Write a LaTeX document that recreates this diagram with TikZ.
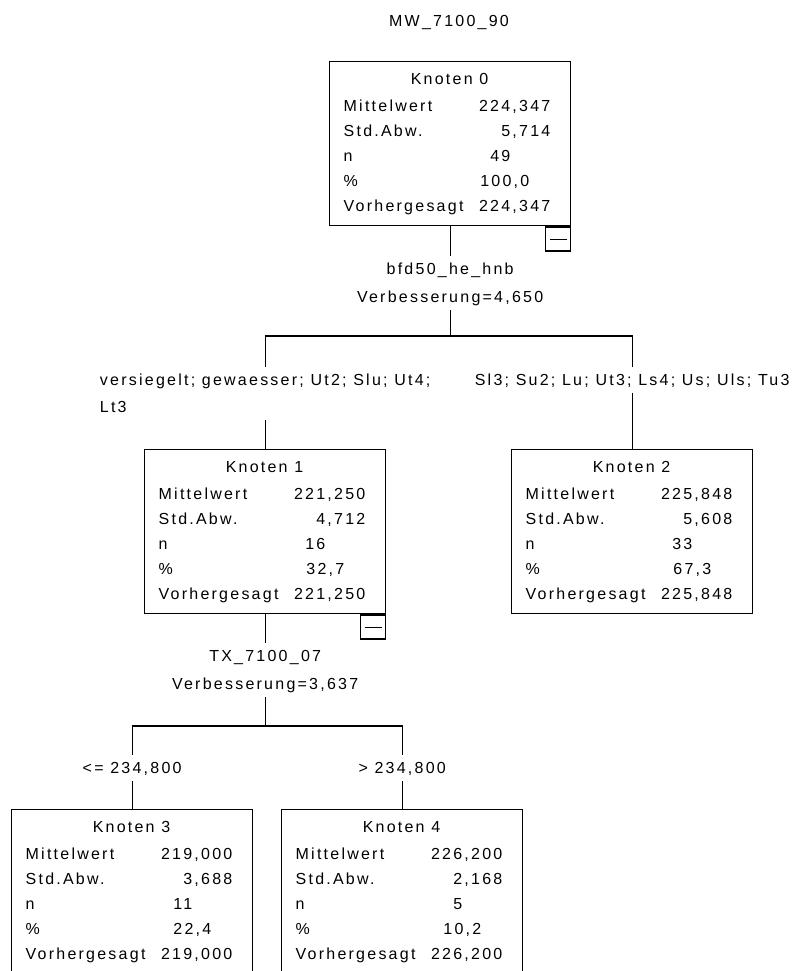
\documentclass[tikz,border=0pt]{standalone}
\usepackage{fontspec}
\setmainfont{Liberation Sans}[LetterSpace=14]
\usetikzlibrary{positioning}

\tikzset{
  knoten/.style={draw, line width=1pt, minimum width=180.75pt, minimum height=123pt, anchor=north west, inner sep=0pt},
  zeile/.style={inner sep=0pt, text height=8.6pt, text depth=0pt},
  split/.style={zeile, fill=white, inner xsep=2pt, inner ysep=5.25pt},
  minus/.style={draw, line width=1pt, minimum width=18.75pt, minimum height=18pt, anchor=north east, inner sep=0pt}
}

% name, left, top, number, mean, sd, n, percent, predicted
\newcommand\knotenbox[9]{%
  \node[knoten] (#1) at (#2,#3) {};
  \begin{scope}[shift={(#2,#3)}]
    \node[zeile] (#1-kopf) at (120.5,18) {Knoten #4};
    \foreach \zname/\wert/\rechts [count=\i] in {
      Mittelwert/{#5}/222,
      Std.Abw./{#6}/222,
      n/{#7}/182,
      \%/{#8}/201,
      Vorhergesagt/{#9}/222%
      }{
      \node[zeile, anchor=west] (#1-l\i) at (14,{45+25*(\i-1)}) {\zname};
      \node[zeile, anchor=east] (#1-w\i) at (\rechts,{45+25*(\i-1)}) {\wert};
      }
  \end{scope}
}

\begin{document}
\begin{tikzpicture}[x=0.75pt, y=-0.75pt, font=\fontsize{12}{14}\selectfont, line width=1pt]
\useasboundingbox (0,0) rectangle (798,971);

\node[zeile] (titel) at (449,21) {MW\_7100\_90};

\knotenbox{k0}{329}{61}{0}{224,347}{5,714}{49}{100,0}{224,347}
\knotenbox{k1}{144}{449}{1}{221,250}{4,712}{16}{32,7}{221,250}
\knotenbox{k2}{511}{449}{2}{225,848}{5,608}{33}{67,3}{225,848}
\knotenbox{k3}{11}{809}{3}{219,000}{3,688}{11}{22,4}{219,000}
\knotenbox{k4}{281}{809}{4}{226,200}{2,168}{5}{10,2}{226,200}

\node[minus] (k0-minus) at (k0.south east) {\rule{12.75pt}{0.75pt}};
\node[minus] (k1-minus) at (k1.south east) {\rule{12.75pt}{0.75pt}};

% split of Knoten 0
\node[split] (s0a) at (k0.south |- 0,269) {bfd50\_he\_hnb};
\node[split] (s0b) at (k0.south |- 0,297) {Verbesserung=4,650};
\coordinate (h0) at (k0.south |- 0,336);
\node[split] (c1a) at (k1.north |- 0,380) {versiegelt; gewaesser; Ut2; Slu; Ut4;};
\node[split, anchor=west] (c1b) at ([yshift=-20.25pt]c1a.west) {Lt3};
\node[split] (c2) at (k2.north |- 0,380) {Sl3; Su2; Lu; Ut3; Ls4; Us; Uls; Tu3};

\draw (k0.south) -- (s0a.north);
\draw (s0b.south) -- (h0);
\draw (c1a.north) |- (h0) -| (c2.north);
\draw (c1b.south -| k1.north) -- (k1.north);
\draw (c2.south) -- (k2.north);

% split of Knoten 1
\node[split] (s1a) at (k1.south |- 0,656) {TX\_7100\_07};
\node[split] (s1b) at (k1.south |- 0,684) {Verbesserung=3,637};
\coordinate (h1) at (k1.south |- 0,726);
\node[split] (c3) at (k3.north |- 0,768) {<= 234,800};
\node[split] (c4) at (k4.north |- 0,768) {> 234,800};

\draw (k1.south) -- (s1a.north);
\draw (s1b.south) -- (h1);
\draw (c3.north) |- (h1) -| (c4.north);
\draw (c3.south) -- (k3.north);
\draw (c4.south) -- (k4.north);
\end{tikzpicture}
\end{document}
